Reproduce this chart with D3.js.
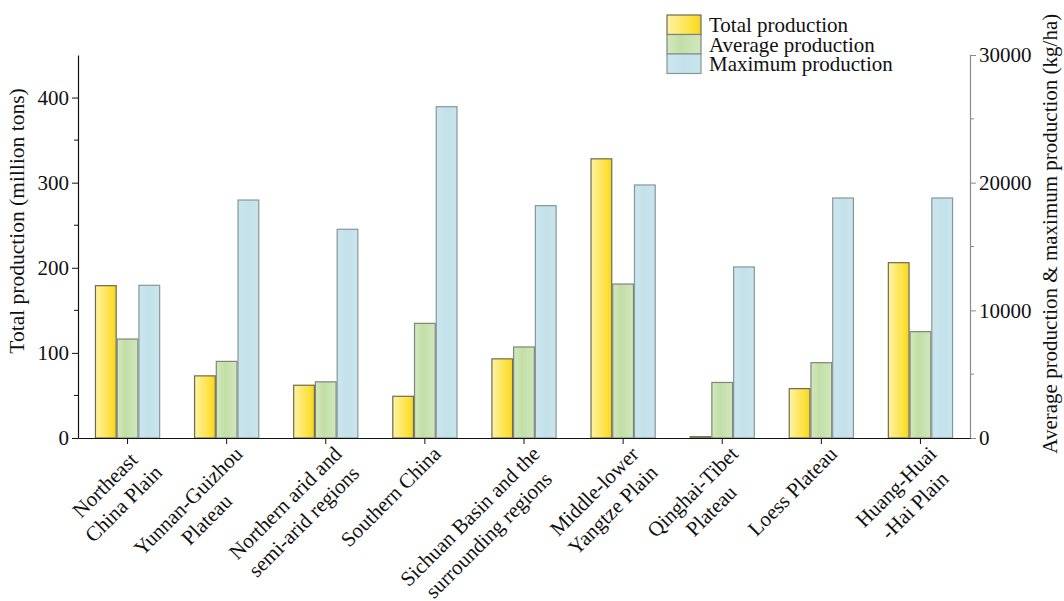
<!DOCTYPE html>
<html>
<head>
<meta charset="utf-8">
<script src="https://cdn.jsdelivr.net/npm/d3@7"></script>
<style>
  body { margin: 0; background: #fff; }
  svg { display: block; font-family: "Liberation Serif", "DejaVu Serif", serif; }
</style>
</head>
<body>
<script>
// Data
const categories = [
  ["Northeast", "China Plain"],
  ["Yunnan-Guizhou", "Plateau"],
  ["Northern arid and", "semi-arid regions"],
  ["Southern China"],
  ["Sichuan Basin and the", "surrounding regions"],
  ["Middle-lower", "Yangtze Plain"],
  ["Qinghai-Tibet", "Plateau"],
  ["Loess Plateau"],
  ["Huang-Huai", "-Hai Plain"]
];
const totalProduction = [179, 73, 62, 49, 93, 328, 1.5, 58, 206];          // million tons
const averageProduction = [7750, 6000, 4400, 8980, 7130, 12060, 4350, 5900, 8330]; // kg/ha
const maximumProduction = [11960, 18640, 16350, 25950, 18200, 19820, 13400, 18800, 18800]; // kg/ha
const seriesNames = ["Total production", "Average production", "Maximum production"];
const leftTicks = [0, 100, 200, 300, 400];
const rightTicks = [0, 10000, 20000, 30000];

// Layout
const width = 1064, height = 601;
const margin = { top: 55, right: 94, bottom: 163, left: 78 };
const fontSize = 21;

const svg = d3.select('body').append('svg')
  .attr('width', width)
  .attr('height', height);

const defs = svg.append('defs');
const gradients = [
  { id: 'g-total', stops: [['0%', '#fdf3a4'], ['45%', '#fde765'], ['80%', '#fde033'], ['100%', '#f4d22a']] },
  { id: 'g-avg',   stops: [['0%', '#d3e9be'], ['40%', '#c2dea6'], ['100%', '#d1e7bc']] },
  { id: 'g-max',   stops: [['0%', '#cbe6ed'], ['50%', '#c3e1ea'], ['100%', '#cae5ec']] }
];
gradients.forEach(g => {
  const lg = defs.append('linearGradient').attr('id', g.id)
    .attr('x1', '0%').attr('x2', '100%').attr('y1', '0%').attr('y2', '0%');
  g.stops.forEach(s => lg.append('stop').attr('offset', s[0]).attr('stop-color', s[1]));
});
const fills = ['url(#g-total)', 'url(#g-avg)', 'url(#g-max)'];
const strokes = ['#6e6a52', '#7f857a', '#86979b'];

// Scales
const x0 = d3.scaleBand()
  .domain(d3.range(categories.length))
  .range([margin.left, width - margin.right])
  .padding(0);

const x1 = d3.scaleBand()
  .domain(seriesNames)
  .range([0, x0.bandwidth()])
  .paddingInner(0)
  .paddingOuter(0.78);

const yLeft = d3.scaleLinear().domain([0, 450]).range([height - margin.bottom, margin.top]);
const yRight = d3.scaleLinear().domain([0, 30000]).range([height - margin.bottom, margin.top]);

const rows = categories.map((c, i) => ({
  i,
  values: [
    { s: 0, v: totalProduction[i], y: yLeft },
    { s: 1, v: averageProduction[i], y: yRight },
    { s: 2, v: maximumProduction[i], y: yRight }
  ]
}));

// Bars
const groups = svg.append('g').selectAll('g')
  .data(rows)
  .join('g')
  .attr('transform', d => `translate(${x0(d.i)},0)`);

groups.selectAll('rect')
  .data(d => d.values)
  .join('rect')
  .attr('x', d => x1(seriesNames[d.s]) + 0.5)
  .attr('width', x1.bandwidth() - 1)
  .attr('y', d => d.y(d.v))
  .attr('height', d => d.y(0) - d.y(d.v))
  .attr('fill', d => fills[d.s])
  .attr('stroke', d => strokes[d.s])
  .attr('stroke-width', 1.2);

// Left axis
const leftAxis = svg.append('g')
  .attr('transform', `translate(${margin.left},0)`)
  .call(d3.axisLeft(yLeft).tickValues(leftTicks).tickSize(6).tickPadding(3).tickSizeOuter(0));
leftAxis.selectAll('.tick line').attr('stroke', '#111');
leftAxis.select('.domain').attr('stroke', '#111').attr('stroke-width', 1.2);
leftAxis.selectAll('text').attr('font-size', fontSize).attr('fill', '#111').attr('font-family', 'Liberation Serif');
leftAxis.selectAll('.minor')
  .data([50, 150, 250, 350])
  .join('line')
  .attr('class', 'minor')
  .attr('x1', -4).attr('x2', 0)
  .attr('y1', d => yLeft(d)).attr('y2', d => yLeft(d))
  .attr('stroke', '#111');

// Right axis
const rightAxis = svg.append('g')
  .attr('transform', `translate(${width - margin.right},0)`)
  .call(d3.axisRight(yRight).tickValues(rightTicks).tickFormat(d3.format('d'))
    .tickSize(6).tickPadding(3).tickSizeOuter(0));
rightAxis.selectAll('.tick line').attr('stroke', '#8a8a8a');
rightAxis.select('.domain').attr('stroke', '#8a8a8a').attr('stroke-width', 1.2);
rightAxis.selectAll('text').attr('font-size', fontSize).attr('fill', '#111').attr('font-family', 'Liberation Serif');
rightAxis.selectAll('.minor')
  .data([5000, 15000, 25000])
  .join('line')
  .attr('class', 'minor')
  .attr('x1', 0).attr('x2', 4)
  .attr('y1', d => yRight(d)).attr('y2', d => yRight(d))
  .attr('stroke', '#8a8a8a');

// Bottom axis
const bottomAxis = svg.append('g')
  .attr('transform', `translate(0,${height - margin.bottom})`)
  .call(d3.axisBottom(x0).tickSize(6).tickSizeOuter(0).tickFormat(''));
bottomAxis.select('.domain').attr('stroke', '#111').attr('stroke-width', 1.2);
bottomAxis.selectAll('.tick line').attr('stroke', '#111');

// Category labels, rotated -45°, lines centred on each other
const labels = svg.append('g')
  .selectAll('g')
  .data(categories)
  .join('g')
  .attr('transform', (d, i) => `translate(${x0(i) + x0.bandwidth() / 2 + 12},${height - margin.bottom + 12}) rotate(-45)`);

labels.each(function(lines) {
  const g = d3.select(this);
  const t = g.append('text')
    .attr('font-size', fontSize)
    .attr('fill', '#111')
    .attr('text-anchor', 'middle');
  lines.forEach((l, k) => t.append('tspan').attr('x', 0).attr('dy', k === 0 ? '0.35em' : '1.25em').text(l));
  const w = d3.max(t.selectAll('tspan').nodes(), n => n.getComputedTextLength());
  t.attr('transform', `translate(${-w / 2},0)`);
});

// Axis titles
svg.append('text')
  .attr('transform', `translate(24,${yLeft(255)}) rotate(-90)`)
  .attr('text-anchor', 'middle')
  .attr('font-size', 21.5)
  .attr('fill', '#111')
  .text('Total production (million tons)');

svg.append('text')
  .attr('transform', `translate(1057,${yRight(16000)}) rotate(-90)`)
  .attr('text-anchor', 'middle')
  .attr('font-size', 21)
  .attr('fill', '#111')
  .text('Average production & maximum production (kg/ha)');

// Legend
const legend = svg.append('g').attr('transform', 'translate(667,15)');
const legendRow = 19.5;
seriesNames.forEach((name, k) => {
  legend.append('rect')
    .attr('x', 0).attr('y', k * legendRow)
    .attr('width', 34).attr('height', legendRow)
    .attr('fill', fills[k])
    .attr('stroke', strokes[k]).attr('stroke-width', 1.2);
  legend.append('text')
    .attr('x', 42).attr('y', k * legendRow + legendRow / 2)
    .attr('dy', '0.35em')
    .attr('font-size', fontSize)
    .attr('fill', '#111')
    .text(name);
});
</script>
</body>
</html>
